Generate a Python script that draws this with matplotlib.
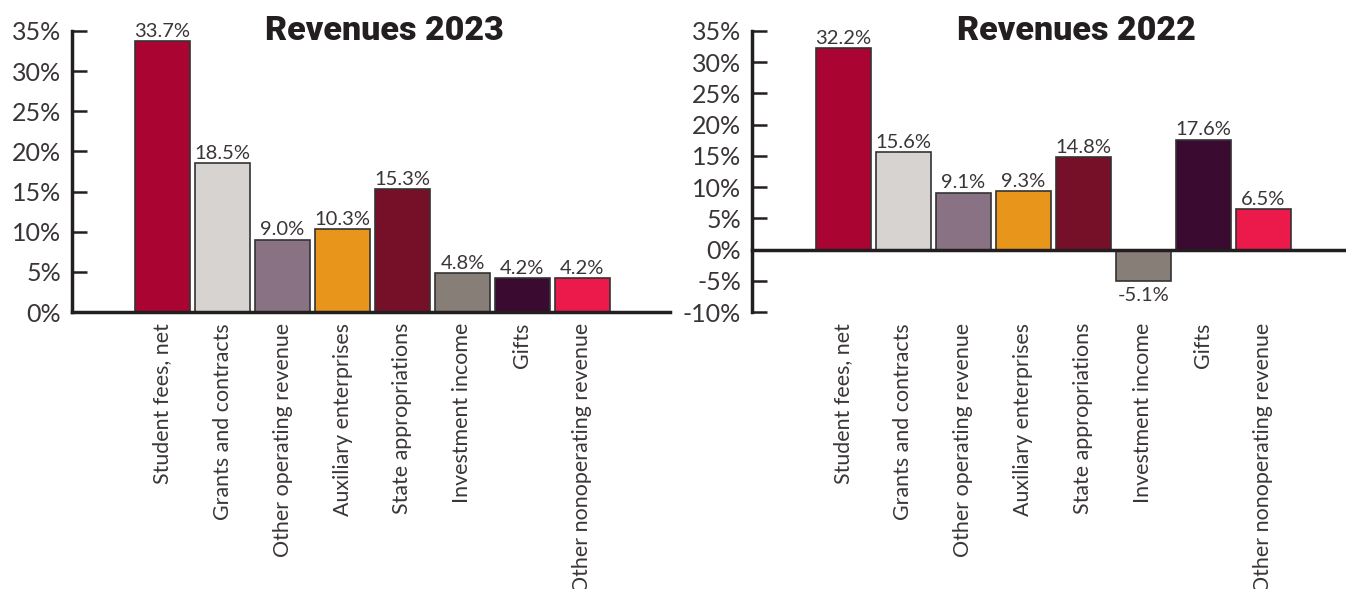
import matplotlib
matplotlib.use("Agg")
import matplotlib.pyplot as plt
from matplotlib.ticker import FuncFormatter

categories = ["Student fees, net", "Grants and contracts", "Other operating revenue",
              "Auxiliary enterprises", "State appropriations", "Investment income",
              "Gifts", "Other nonoperating revenue"]
rev_2023 = [33.7, 18.5, 9.0, 10.3, 15.3, 4.8, 4.2, 4.2]
rev_2022 = [32.2, 15.6, 9.1, 9.3, 14.8, -5.1, 17.6, 6.5]
colors = ["#a90432", "#d7d3d0", "#8a7285", "#e8951c", "#760f28", "#877e78", "#3b0a30", "#ec1a4b"]

INK = "#231f20"
LABEL_FONT = ["Lato", "DejaVu Sans"]

fig = plt.figure(figsize=(13.46, 5.89), dpi=100)
W, H = 1346, 589


def panel(left_px, right_px, top_px, bottom_px):
    return fig.add_axes([left_px / W, 1 - bottom_px / H,
                         (right_px - left_px) / W, (bottom_px - top_px) / H])


def draw(ax, values, title, ylim, yticks, title_x):
    x = list(range(len(values)))
    ax.bar(x, values, width=0.92, color=colors, edgecolor="#333333", linewidth=1.2, zorder=2)
    for xi, v in zip(x, values):
        off = 1 if v >= 0 else -4
        ax.annotate(f"{v:.1f}%", (xi, v), xytext=(0, off), textcoords="offset points",
                    ha="center", va="bottom" if v >= 0 else "top",
                    fontsize=14.5, color="#3a3536", family=LABEL_FONT)
    ax.axhline(0, color=INK, lw=2.5, zorder=3, clip_on=False)
    ax.set_ylim(*ylim)
    ax.set_yticks(yticks)
    ax.yaxis.set_major_formatter(FuncFormatter(lambda v, p: f"{v:.0f}%"))
    ax.tick_params(axis="y", direction="in", length=11, width=1.8, color=INK,
                   labelsize=18, labelcolor="#3a3536", pad=8)
    ax.set_xticks(x)
    ax.set_xticklabels(categories, rotation=90, va="top", ha="center")
    ax.tick_params(axis="x", length=0, pad=8)
    for lab in ax.get_xticklabels():
        lab.set_fontfamily(LABEL_FONT)
        lab.set_fontsize(15.4)
        lab.set_color("#3a3536")
    for lab in ax.get_yticklabels():
        lab.set_fontfamily(LABEL_FONT)
    for s in ["top", "right", "bottom"]:
        ax.spines[s].set_visible(False)
    ax.spines["left"].set_linewidth(2.5)
    ax.spines["left"].set_color(INK)
    ax.text(title_x, 1.0, title, transform=ax.transAxes, ha="center", va="center",
            fontsize=24.5, fontweight="black", color=INK, family=["Roboto", "DejaVu Sans"])


ax1 = panel(72, 670, 31, 312)
ax1.set_xlim(-1.51, 8.46)
draw(ax1, rev_2023, "Revenues 2023", (0, 35), range(0, 36, 5), 0.523)

ax2 = panel(752, 1346, 31, 312)
ax2.set_xlim(-1.52, 8.38)
draw(ax2, rev_2022, "Revenues 2022", (-10, 35), range(-10, 36, 5), 0.547)

fig.savefig("out.png", dpi=100)
